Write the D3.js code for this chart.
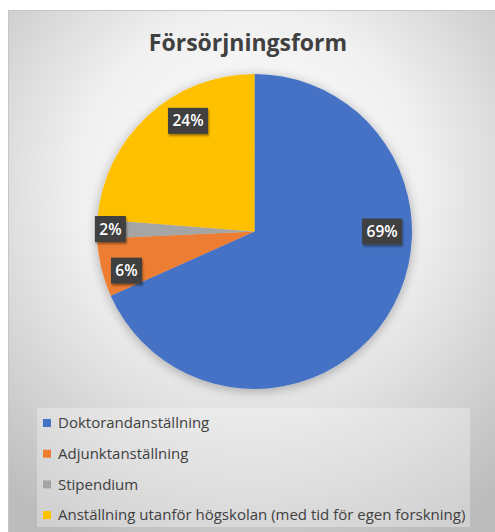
<!DOCTYPE html>
<html><head><meta charset="utf-8">
<script src="https://cdn.jsdelivr.net/npm/d3@7"></script>
<style>html,body{margin:0;padding:0;background:#fff;}svg{display:block;}</style>
</head><body>
<script>
const categories = ["Doktorandanställning","Adjunktanställning","Stipendium","Anställning utanför högskolan (med tid för egen forskning)"];
const values = [69, 6, 2, 24];
const labels = ["69%","6%","2%","24%"];
const colors = ["#4472C4","#ED7D31","#A5A5A5","#FFC000"];
const title = "Försörjningsform";

const W = 495, H = 532;
const svg = d3.select("body").append("svg").attr("width", W).attr("height", H);
const defs = svg.append("defs");
const bg = defs.append("radialGradient").attr("id","bg").attr("gradientUnits","userSpaceOnUse")
  .attr("cx",250).attr("cy",200).attr("r",380).attr("fx",250).attr("fy",170);
bg.append("stop").attr("offset","0%").attr("stop-color","#ffffff");
bg.append("stop").attr("offset","45%").attr("stop-color","#f0f0f0");
bg.append("stop").attr("offset","100%").attr("stop-color","#bcbcbc");
const sh = defs.append("filter").attr("id","sh").attr("x","-30%").attr("y","-30%").attr("width","160%").attr("height","160%");
sh.append("feGaussianBlur").attr("in","SourceAlpha").attr("stdDeviation",6).attr("result","b");
sh.append("feOffset").attr("in","b").attr("dx",0).attr("dy",2).attr("result","o");
sh.append("feComponentTransfer").attr("in","o").attr("result","o2").append("feFuncA").attr("type","linear").attr("slope",0.3);
const m = sh.append("feMerge"); m.append("feMergeNode").attr("in","o2"); m.append("feMergeNode").attr("in","SourceGraphic");
const ls = defs.append("filter").attr("id","ls").attr("x","-20%").attr("y","-20%").attr("width","150%").attr("height","160%");
ls.append("feGaussianBlur").attr("in","SourceAlpha").attr("stdDeviation",1.2).attr("result","b");
ls.append("feOffset").attr("in","b").attr("dx",1).attr("dy",1.5).attr("result","o");
ls.append("feComponentTransfer").attr("in","o").attr("result","o2").append("feFuncA").attr("type","linear").attr("slope",0.4);
const m2 = ls.append("feMerge"); m2.append("feMergeNode").attr("in","o2"); m2.append("feMergeNode").attr("in","SourceGraphic");

// chart frame
svg.append("rect").attr("x",8.5).attr("y",10.5).attr("width",W).attr("height",H)
  .attr("fill","url(#bg)").attr("stroke","#c6c6c6").attr("stroke-width",1);

svg.append("text").attr("x",248).attr("y",51).attr("text-anchor","middle")
  .attr("font-family","Open Sans").attr("font-weight","bold").attr("font-size",23)
  .attr("fill","#404040").text(title);

const cx = 254.5, cy = 231.5, R = 157.5;
const pie = d3.pie().sort(null).value(d => d);
const arcs = pie(values);
const arc = d3.arc().innerRadius(0).outerRadius(R);
const g = svg.append("g").attr("transform",`translate(${cx},${cy})`);
g.append("g").attr("filter","url(#sh)").selectAll("path").data(arcs).join("path")
  .attr("d",arc).attr("fill",(d,i)=>colors[i]);

// label placement (best-fit style): angle in degrees from 12 o'clock, radius fraction
const labelPlace = [[90,0.81],[253,0.85],[271,0.915],[329,0.82]];
const lg = g.append("g");
arcs.forEach((a,i)=>{
  const ang = labelPlace[i][0]*Math.PI/180, rr = labelPlace[i][1]*R;
  const x = Math.sin(ang)*rr, y = -Math.cos(ang)*rr;
  const t = lg.append("g").attr("transform",`translate(${x},${y})`);
  const txt = labels[i];
  const w = txt.length===3 ? 40 : 31, h = 26;
  t.append("rect").attr("x",-w/2).attr("y",-h/2).attr("width",w).attr("height",h)
    .attr("fill","#404040").attr("filter","url(#ls)");
  t.append("text").attr("text-anchor","middle").attr("dy","0.36em")
    .attr("font-family","Open Sans").attr("font-weight",600).attr("font-size",15.5)
    .attr("fill","#fff").text(txt);
});

// legend
const lx = 37, ly = 408;
svg.append("rect").attr("x",lx).attr("y",ly).attr("width",433).attr("height",119)
  .attr("fill","#ffffff").attr("fill-opacity",0.3);
const leg = svg.append("g");
categories.forEach((c,i)=>{
  const y = 423 + i*30.7;
  leg.append("rect").attr("x",43).attr("y",y-4).attr("width",8).attr("height",8).attr("fill",colors[i]);
  leg.append("text").attr("x",58).attr("y",y).attr("dy","0.35em")
    .attr("font-family","Open Sans").attr("font-size",15).attr("fill","#404040").text(c);
});
</script>
</body></html>
